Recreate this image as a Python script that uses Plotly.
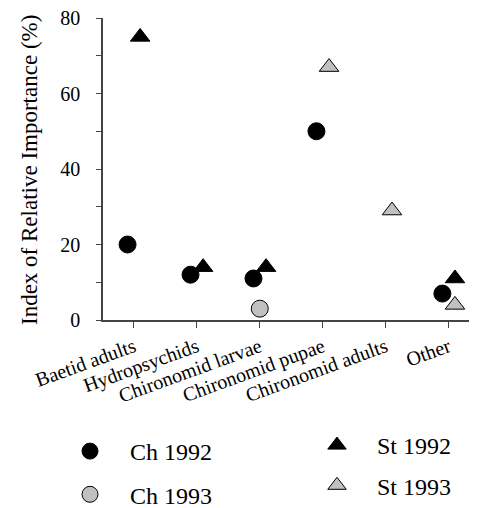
import plotly.graph_objects as go

categories = ["Baetid adults", "Hydropsychids", "Chironomid larvae",
              "Chironomid pupae", "Chironomid adults", "Other"]
ch1992 = [20, 12, 11, 50, None, 7]
st1992 = [75, 14, 14, None, None, 11]
ch1993 = [None, None, 3, None, None, None]
st1993 = [None, None, None, 67, 29, 4]
y_tick_vals = [0, 10, 20, 30, 40, 50, 60, 70, 80]
y_tick_text = ["0", "", "20", "", "40", "", "60", "", "80"]

idx = list(range(len(categories)))
FONT = "Liberation Serif, Times New Roman, serif"

def xs(off):
    return [i + off for i in idx]

fig = go.Figure()
fig.add_trace(go.Scatter(x=xs(-0.1), y=ch1992, mode="markers", name="Ch 1992",
                         marker=dict(symbol="circle", size=17, color="black",
                                     line=dict(color="black", width=1)),
                         legend="legend", legendgroup="a", cliponaxis=False))
fig.add_trace(go.Scatter(x=xs(0.0), y=ch1993, mode="markers", name="Ch 1993",
                         marker=dict(symbol="circle", size=17, color="#c0c0c0",
                                     line=dict(color="black", width=1)),
                         legend="legend", legendgroup="b", cliponaxis=False))
fig.add_trace(go.Scatter(x=xs(0.1), y=st1992, mode="markers", name="St 1992",
                         marker=dict(symbol="triangle-up", size=17, color="black",
                                     line=dict(color="black", width=1)),
                         legend="legend2", legendgroup="c", cliponaxis=False))
fig.add_trace(go.Scatter(x=xs(0.1), y=st1993, mode="markers", name="St 1993",
                         marker=dict(symbol="triangle-up", size=17, color="#c0c0c0",
                                     line=dict(color="black", width=1)),
                         legend="legend2", legendgroup="d", cliponaxis=False))

fig.update_layout(
    width=477, height=508,
    margin=dict(l=95, r=8, t=10, b=196, autoexpand=False),
    plot_bgcolor="white", paper_bgcolor="white",
    font=dict(family=FONT, size=20, color="black"),
    showlegend=True,
    legend=dict(xref="container", yref="container", x=42/477, y=1-421/508,
                xanchor="left", yanchor="top", tracegroupgap=9,
                font=dict(size=24), itemwidth=70, bgcolor="rgba(0,0,0,0)"),
    legend2=dict(xref="container", yref="container", x=289/477, y=1-415/508,
                 xanchor="left", yanchor="top", tracegroupgap=6,
                 font=dict(size=24), itemwidth=70, bgcolor="rgba(0,0,0,0)"),
    annotations=[dict(text="Index of Relative Importance (%)", xref="paper",
                      yref="paper", x=0, y=0.5, xanchor="center",
                      yanchor="middle", xshift=-74, yshift=-1, textangle=-90,
                      showarrow=False, font=dict(size=23))],
)
fig.update_xaxes(range=[-0.49, 5.45], tickvals=idx, ticktext=categories,
                 tickangle=-20, showline=True, linecolor="#444", linewidth=1.5,
                 ticks="outside", ticklen=6, tickcolor="#444", showgrid=False,
                 zeroline=False, tickfont=dict(size=20))
fig.update_yaxes(range=[0, 80], tickvals=y_tick_vals, ticktext=y_tick_text,
                 showline=True, linecolor="#444", linewidth=1.5,
                 ticks="outside", ticklen=5, tickcolor="#444", showgrid=False,
                 zeroline=False, tickfont=dict(size=20), ticklabelstandoff=12,
                 ticklabeloverflow="allow")

fig.write_html("out.html")
